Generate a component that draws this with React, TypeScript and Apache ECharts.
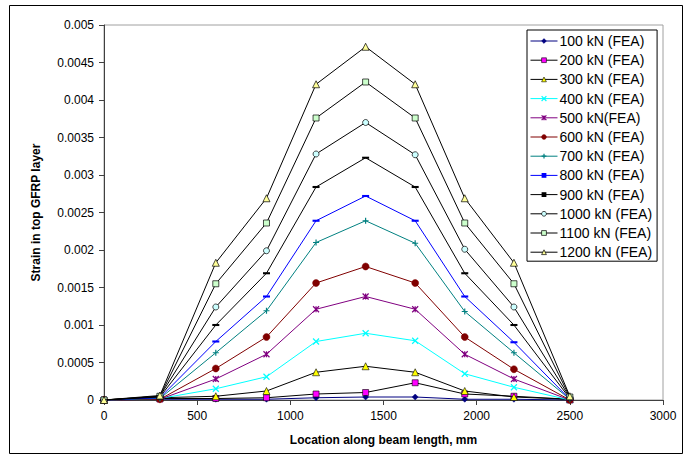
import React, { useEffect, useRef } from "react";
import * as echarts from "echarts";

const xPositions = [0, 300, 600, 872, 1138, 1404, 1670, 1936, 2200, 2500];
const xTicks = [0, 500, 1000, 1500, 2000, 2500, 3000];
const yTicks = [0, 0.0005, 0.001, 0.0015, 0.002, 0.0025, 0.003, 0.0035, 0.004, 0.0045, 0.005];

const seriesNames = [
  "100 kN (FEA)", "200 kN (FEA)", "300 kN (FEA)", "400 kN (FEA)", "500 kN(FEA)", "600 kN (FEA)",
  "700 kN (FEA)", "800 kN (FEA)", "900 kN (FEA)", "1000 kN (FEA)", "1100 kN (FEA)", "1200 kN (FEA)",
];

const s100 = [0, 0.00001, 0.00001, 0.00001, 0.00003, 0.00004, 0.00004, 0.00001, 0.00001, 0];
const s200 = [0, 0.00002, 0.00002, 0.00003, 0.00008, 0.0001, 0.00023, 0.00008, 0.00005, 0.00001];
const s300 = [0, 0.00003, 0.00005, 0.00012, 0.00037, 0.00045, 0.00037, 0.00012, 0.00004, 0.00001];
const s400 = [0, 0.00002, 0.00015, 0.00031, 0.00078, 0.00089, 0.00079, 0.00035, 0.00017, 0];
const s500 = [0, 0.00001, 0.00028, 0.00061, 0.00121, 0.00138, 0.00121, 0.00061, 0.00028, 0];
const s600 = [0, 0.00001, 0.00042, 0.00084, 0.00156, 0.00178, 0.00156, 0.00084, 0.00041, 0];
const s700 = [0, 0.00002, 0.00063, 0.00119, 0.0021, 0.00239, 0.00209, 0.00118, 0.00063, 0.00001];
const s800 = [0, 0.00003, 0.00078, 0.00138, 0.00239, 0.00272, 0.00239, 0.00138, 0.00077, 0.00001];
const s900 = [0, 0.00004, 0.001, 0.00169, 0.00284, 0.00323, 0.00284, 0.00169, 0.001, 0.00002];
const s1000 = [0, 0.00005, 0.00124, 0.00199, 0.00328, 0.0037, 0.00327, 0.00201, 0.00124, 0.00003];
const s1100 = [0, 0.00005, 0.00155, 0.00236, 0.00376, 0.00424, 0.00376, 0.00236, 0.00155, 0.00004];
const s1200 = [0, 0.00006, 0.00183, 0.00269, 0.00421, 0.00471, 0.00421, 0.00269, 0.00183, 0.00005];

const allValues = [s100, s200, s300, s400, s500, s600, s700, s800, s900, s1000, s1100, s1200];

const FONT = 'Arial, "Liberation Sans", sans-serif';

const X_PATH = "path://M0,0L10,10M10,0L0,10";
const STAR_PATH = "path://M0,0L10,10M10,0L0,10M5,0L5,10";
const PLUS_PATH = "path://M5,0L5,10M0,5L10,5";
const DASH_PATH = "path://M0,0h10v3h-10z";

type Style = {
  line: string;
  symbol: string;
  size: number;
  fill: string;
  border: string;
  borderWidth: number;
};

const styles: Style[] = [
  { line: "#000080", symbol: "diamond", size: 6, fill: "#000080", border: "#000080", borderWidth: 0.5 },
  { line: "#000000", symbol: "rect", size: 6, fill: "#ff00ff", border: "#000000", borderWidth: 0.6 },
  { line: "#000000", symbol: "triangle", size: 7, fill: "#ffff00", border: "#000000", borderWidth: 0.6 },
  { line: "#00ffff", symbol: X_PATH, size: 6, fill: "none", border: "#00ffff", borderWidth: 1.2 },
  { line: "#800080", symbol: STAR_PATH, size: 6, fill: "none", border: "#800080", borderWidth: 1.2 },
  { line: "#800000", symbol: "circle", size: 7, fill: "#800000", border: "#800000", borderWidth: 0.5 },
  { line: "#008080", symbol: PLUS_PATH, size: 6, fill: "none", border: "#008080", borderWidth: 1.2 },
  { line: "#0000ff", symbol: DASH_PATH, size: 7, fill: "#0000ff", border: "#0000ff", borderWidth: 0 },
  { line: "#000000", symbol: DASH_PATH, size: 7, fill: "#000000", border: "#000000", borderWidth: 0 },
  { line: "#000000", symbol: "circle", size: 6, fill: "#ccffff", border: "#000000", borderWidth: 0.7 },
  { line: "#000000", symbol: "rect", size: 6, fill: "#ccffcc", border: "#000000", borderWidth: 0.7 },
  { line: "#000000", symbol: "triangle", size: 7, fill: "#ffff99", border: "#000000", borderWidth: 0.7 },
];

export default function App() {
  const ref = useRef<HTMLDivElement>(null);

  useEffect(() => {
    if (!ref.current) return;
    const chart = echarts.init(ref.current, undefined, { renderer: "svg" });

    const series = seriesNames.map((name, i) => {
      const st = styles[i];
      return {
        name,
        type: "line",
        data: xPositions.map((x, j) => [x, allValues[i][j]]),
        symbol: st.symbol,
        symbolSize: st.size,
        symbolKeepAspect: true,
        showAllSymbol: true,
        lineStyle: { color: st.line, width: 1 },
        itemStyle: { color: st.fill, borderColor: st.border, borderWidth: st.borderWidth },
        emphasis: { disabled: true },
        z: 2 + i,
      };
    });

    const legendData = seriesNames.map((name, i) => {
      const st = styles[i];
      return {
        name,
        itemStyle: { color: st.fill, borderColor: st.border, borderWidth: st.borderWidth },
        lineStyle: { color: st.line, width: 1 },
      };
    });

    chart.setOption({
      animation: false,
      backgroundColor: "#ffffff",
      textStyle: { fontFamily: FONT },
      graphic: [
        {
          type: "rect",
          shape: { x: 9.5, y: 5.5, width: 673, height: 448 },
          style: { fill: "none", stroke: "#000000", lineWidth: 1 },
          silent: true,
        },
      ],
      grid: {
        left: 104,
        right: 22,
        top: 25,
        bottom: 57,
        show: true,
        borderColor: "#a0a0a0",
        borderWidth: 1,
      },
      legend: {
        data: legendData,
        orient: "vertical",
        left: 527,
        top: 30,
        padding: [4, 5, 2, 3],
        itemWidth: 27,
        itemHeight: 6,
        itemGap: 5.2,
        symbolKeepAspect: true,
        borderColor: "#000000",
        borderWidth: 1,
        backgroundColor: "#ffffff",
        textStyle: { fontFamily: FONT, fontSize: 14, color: "#000000", lineHeight: 14, padding: [0, 0, 0, -3] },
        selectedMode: false,
      },
      xAxis: {
        type: "value",
        min: 0,
        max: 3000,
        interval: 500,
        name: "Location along beam length, mm",
        nameLocation: "middle",
        nameGap: 34,
        nameTextStyle: { fontFamily: FONT, fontSize: 12, fontWeight: "bold", color: "#000000" },
        axisLine: { show: true, lineStyle: { color: "#404040", width: 1 } },
        axisTick: { show: true, length: 5, lineStyle: { color: "#404040" } },
        axisLabel: {
          fontFamily: FONT,
          fontSize: 12,
          color: "#000000",
          margin: 10,
          formatter: (v: number) => (xTicks.includes(v) ? String(v) : ""),
        },
        splitLine: { show: false },
      },
      yAxis: {
        type: "value",
        min: 0,
        max: 0.005,
        interval: 0.0005,
        name: "Strain in top GFRP layer",
        nameLocation: "middle",
        nameGap: 62,
        nameRotate: 90,
        nameTextStyle: { fontFamily: FONT, fontSize: 12, fontWeight: "bold", color: "#000000" },
        axisLine: { show: true, lineStyle: { color: "#404040", width: 1 } },
        axisTick: { show: true, length: 5, inside: false, lineStyle: { color: "#404040" } },
        axisLabel: {
          fontFamily: FONT,
          fontSize: 12,
          color: "#000000",
          margin: 10,
          formatter: (v: number) => {
            const r = +v.toFixed(4);
            return yTicks.some((t) => Math.abs(t - r) < 1e-9) ? String(r) : "";
          },
        },
        splitLine: { show: false },
      },
      series,
    });

    return () => chart.dispose();
  }, []);

  return (
    <div
      ref={ref}
      style={{ position: "fixed", left: 0, top: 0, width: 685, height: 457, background: "#fff" }}
    />
  );
}
